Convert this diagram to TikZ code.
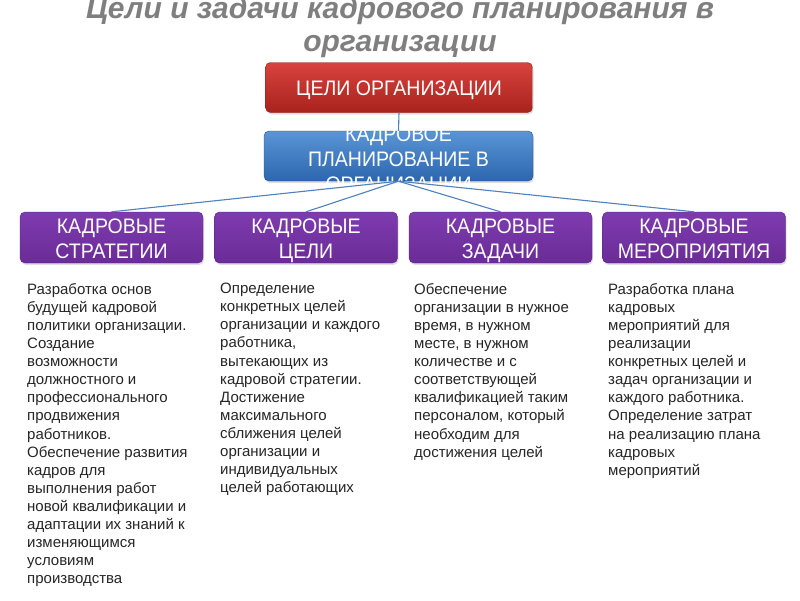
\documentclass[tikz,border=0pt]{standalone}
\usepackage{fontspec}
\setmainfont{Liberation Sans}
\newfontfamily\boxfont[FakeStretch=0.93]{Liberation Sans}
\usetikzlibrary{shadows}
\definecolor{titlegray}{HTML}{7F7F7F}
\definecolor{redtop}{HTML}{D8433D}
\definecolor{redbot}{HTML}{A9221D}
\definecolor{bluetop}{HTML}{5A95D6}
\definecolor{bluebot}{HTML}{2C66AE}
\definecolor{purtop}{HTML}{7E3BAE}
\definecolor{purbot}{HTML}{6A2C98}
\definecolor{connblue}{HTML}{4F81BD}
\definecolor{bodytext}{HTML}{262626}
\begin{document}
\begin{tikzpicture}[x=1pt,y=-1pt,
  titletext/.style={font=\fontsize{30}{34}\selectfont\bfseries\itshape, text=titlegray, inner sep=0pt},
  boxbase/.style={rounded corners=5pt, inner sep=0pt, drop shadow={opacity=0.25, shadow xshift=1pt, shadow yshift=-2pt}},
  redbox/.style={boxbase, top color=redtop, bottom color=redbot, draw=redbot!80!black, line width=0.4pt},
  bluebox/.style={boxbase, top color=bluetop, bottom color=bluebot, draw=bluebot!80!black, line width=0.4pt},
  purbox/.style={boxbase, top color=purtop, bottom color=purbot, draw=purbot!80!black, line width=0.4pt,
    minimum width=183pt, minimum height=51pt},
  boxtext/.style={text=white, align=center, inner sep=0pt, anchor=base, font=\boxfont\fontsize{21}{25}\selectfont},
  conn/.style={draw=connblue, line width=1.1pt},
  bodycol/.style={anchor=north west, inner sep=0pt, align=left, text=bodytext,
    font=\fontsize{15}{18.1}\selectfont}
]
\useasboundingbox[fill=white] (0,0) rectangle (800,600);

\node[titletext, anchor=base] (t1) at (400,18) {Цели и задачи кадрового планирования в};
\node[titletext, anchor=base] (t2) at (400,51) {организации};

\node[redbox, minimum width=267pt, minimum height=50pt] (goal) at (399,87.5) {};
\node[boxtext] (goaltext) at (399,95) {ЦЕЛИ ОРГАНИЗАЦИИ};

\node[bluebox, minimum width=269pt, minimum height=50pt] (plan) at (398.5,156) {};

\node[purbox] (p1) at (111.5,237.5) {};
\node[purbox] (p2) at (306,237.5) {};
\node[purbox] (p3) at (500.5,237.5) {};
\node[purbox] (p4) at (694,237.5) {};

\node[boxtext] (plantext) at (398.5,191) {КАДРОВОЕ\\ПЛАНИРОВАНИЕ В\\ОРГАНИЗАЦИИ};

\draw[conn] (goal.south) -- (plan.north);
\draw[conn] (plan.south) -- (p1.north);
\draw[conn] (plan.south) -- (p2.north);
\draw[conn] (plan.south) -- (p3.north);
\draw[conn] (plan.south) -- (p4.north);

\node[boxtext] (p1t) at (111.5,258) {КАДРОВЫЕ\\СТРАТЕГИИ};
\node[boxtext] (p2t) at (306,258) {КАДРОВЫЕ\\ЦЕЛИ};
\node[boxtext] (p3t) at (500.5,258) {КАДРОВЫЕ\\ЗАДАЧИ};
\node[boxtext] (p4t) at (694,258) {КАДРОВЫЕ\\МЕРОПРИЯТИЯ};

\node[bodycol] (c1) at (27,283) {Разработка основ\\будущей кадровой\\политики организации.\\Создание\\возможности\\должностного и\\профессионального\\продвижения\\работников.\\Обеспечение развития\\кадров для\\выполнения работ\\новой квалификации и\\адаптации их знаний к\\изменяющимся\\условиям\\производства};

\node[bodycol] (c2) at (220,283) {Определение\\конкретных целей\\организации и каждого\\работника,\\вытекающих из\\кадровой стратегии.\\Достижение\\максимального\\сближения целей\\организации и\\индивидуальных\\целей работающих};

\node[bodycol] (c3) at (414,283) {Обеспечение\\организации в нужное\\время, в нужном\\месте, в нужном\\количестве и с\\соответствующей\\квалификацией таким\\персоналом, который\\необходим для\\достижения целей};

\node[bodycol] (c4) at (608,283) {Разработка плана\\кадровых\\мероприятий для\\реализации\\конкретных целей и\\задач организации и\\каждого работника.\\Определение затрат\\на реализацию плана\\кадровых\\мероприятий};
\end{tikzpicture}
\end{document}
